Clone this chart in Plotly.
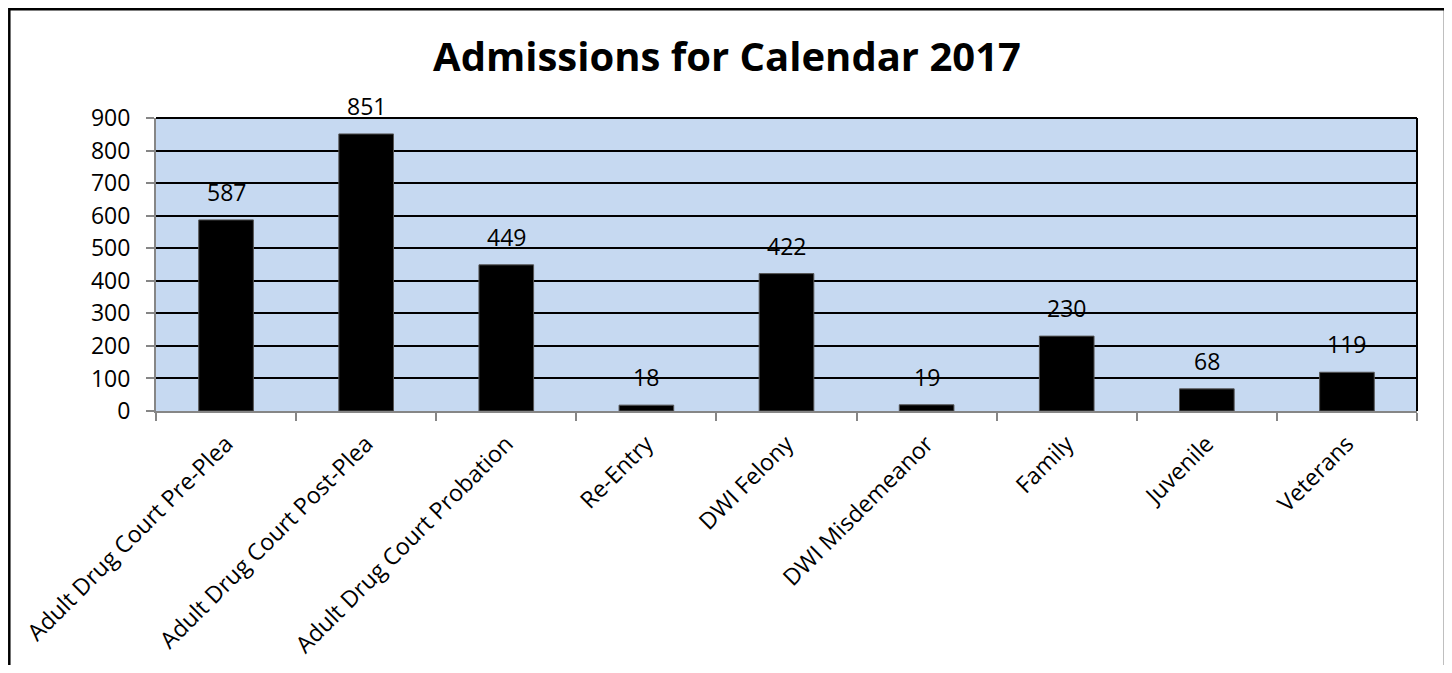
import plotly.graph_objects as go

categories = ["Adult Drug Court Pre-Plea", "Adult Drug Court Post-Plea", "Adult Drug Court Probation",
              "Re-Entry", "DWI Felony", "DWI Misdemeanor", "Family", "Juvenile", "Veterans"]
admissions = [587, 851, 449, 18, 422, 19, 230, 68, 119]
y_ticks = [0, 100, 200, 300, 400, 500, 600, 700, 800, 900]
title_text = "Admissions for Calendar 2017"

FONT = "Open Sans"
OFF = 8  # default page body margin
W, H = 1452 - OFF, 673 - 2 * OFF
PL, PR, PT, PB = 156 - OFF, 1417 - OFF, 118 - OFF, 411 - OFF  # plot area in figure px

fig = go.Figure(go.Bar(
    x=categories, y=admissions,
    marker=dict(color="black", line=dict(color="#555555", width=1)),
    width=0.39,
))

for c, v in zip(categories, admissions):
    fig.add_annotation(x=c, y=v, text=str(v), showarrow=False, yanchor="bottom",
                       yshift=10, font=dict(family=FONT, size=23, color="black"))

fig.update_layout(
    width=W, height=H,
    margin=dict(l=PL, r=W - PR, t=PT, b=H - PB, autoexpand=False),
    paper_bgcolor="white", plot_bgcolor="#C6D9F1",
    showlegend=False,
    title=dict(text="<b>" + title_text + "</b>", x=(727 - OFF) / W, xanchor="center",
               y=1 - (57 - OFF) / H, yanchor="middle", yref="container",
               font=dict(family=FONT, size=40, color="black")),
    xaxis=dict(showline=True, linecolor="#868686", linewidth=2, ticks="outside",
               tickson="boundaries", ticklen=8, tickcolor="#868686", tickwidth=2,
               tickangle=-45, tickfont=dict(family=FONT, size=23.2, color="black"),
               ticklabelstandoff=8, showgrid=False),
    yaxis=dict(range=[0, 900], tickvals=y_ticks, showline=True, linecolor="#868686",
               linewidth=2, ticks="outside", ticklen=8, tickcolor="#868686", tickwidth=2,
               showgrid=True, gridcolor="black", gridwidth=2, zeroline=False,
               ticklabelstandoff=11,
               tickfont=dict(family=FONT, size=23, color="black")),
)

# plot area top and right borders
fig.add_shape(type="line", xref="paper", yref="paper", x0=0, x1=1, y0=1, y1=1,
              line=dict(color="black", width=2))
fig.add_shape(type="line", xref="paper", yref="paper", x0=1, x1=1, y0=0, y1=1,
              line=dict(color="black", width=2))

# outer chart frame (figure px -> paper)
FL, FR, FT, FB = 1.3, 1437, 1.3, 700
pw, ph = PR - PL, PB - PT
fig.add_shape(type="rect", xref="paper", yref="paper",
              x0=(FL - PL) / pw, x1=(FR - PL) / pw,
              y0=(PB - FB) / ph, y1=(PB - FT) / ph,
              line=dict(color="black", width=2.5), layer="below")

fig.write_html("out.html")
